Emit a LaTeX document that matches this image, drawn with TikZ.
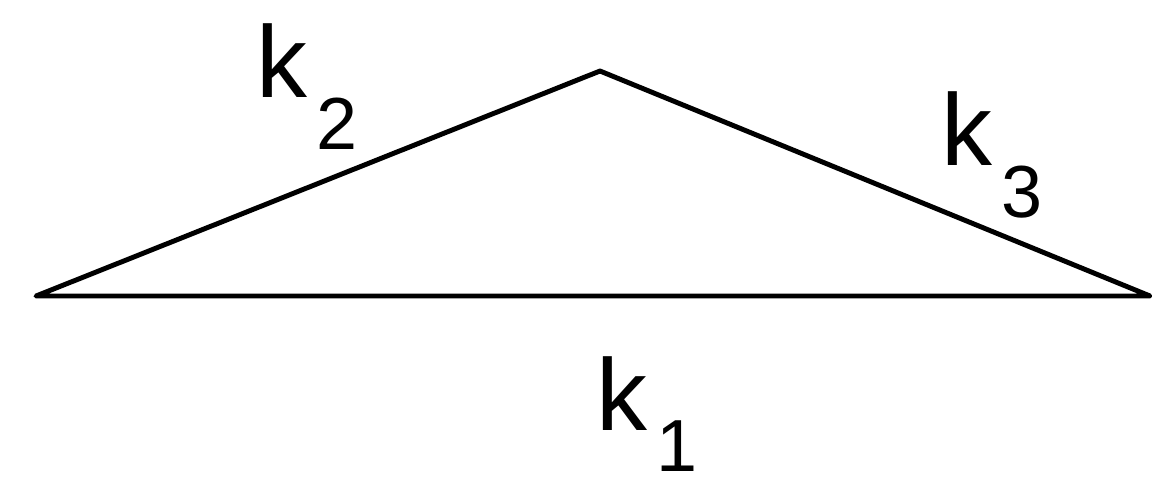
\documentclass[tikz,border=0pt]{standalone}
\usepackage{fontspec}
\setmainfont{Liberation Sans}
\usepackage{tikz}
\usetikzlibrary{positioning,calc}
\newcommand{\klab}[2][1.06cm]{k\hspace{0.18cm}\raisebox{-#1}{\fontsize{42}{46}\selectfont #2}}

\begin{document}
\begin{tikzpicture}[x=0.02cm,y=-0.02cm,line join=round,
  side/.style={draw,line width=2.8pt},
  lab/.style={inner sep=0pt,anchor=base west,font=\fontsize{58}{64}\selectfont}]
\useasboundingbox (0,0) rectangle (1152,488);
\coordinate (L) at (36,296);
\coordinate (T) at (600,71);
\coordinate (R) at (1150,296);
\draw[side] (L) -- (T) -- (R) -- cycle;
\node[lab] (k2) at (256,97) {\klab{2}};
\node[lab] (k3) at (941,165) {\klab{3}};
\node[lab] (k1) at (596,430) {\klab[0.82cm]{1}};
\end{tikzpicture}
\end{document}
